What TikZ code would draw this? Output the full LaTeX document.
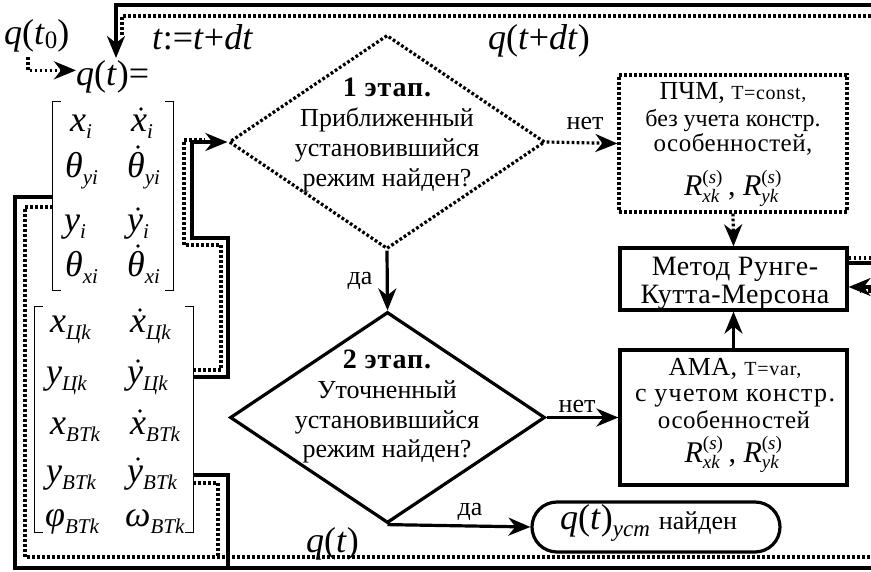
\documentclass[tikz,border=0pt]{standalone}
\usepackage{fontspec}
\usepackage{graphicx}
\setmainfont{Liberation Serif}
\usetikzlibrary{arrows.meta,shapes.geometric,shapes.misc}

\newcommand\fsz[1]{\fontsize{#1}{#1}\selectfont}
\newcommand\wide[1]{\addfontfeature{LetterSpace=#1}}
% lowered italic index
\newcommand\lowix[2][21]{\raisebox{-7pt}{\fsz{#1}\textit{#2}}}
% matrix entry: italic symbol with index
\newcommand\mv[2]{\textit{#1}\lowix{#2}}
% reaction force with superscript (s)
\newcommand\Rf[1]{$\hbox{\textit{R}}^{\hbox{\fsz{19}(\textit{s})}}_{\hbox{\fsz{19}\textit{#1}}}$}

\begin{document}
\begin{tikzpicture}[x=1pt,y=-1pt,
  ln/.style={line width=3.2pt},
  dl/.style={line width=3.2pt,dash pattern=on 2.8pt off 2.2pt},
  arr/.style={-{Stealth[length=22pt,width=18pt,inset=7pt]}},
  txt/.style={inner sep=0pt,anchor=base},
  body/.style={txt,font=\fsz{26}},
  lbl/.style={txt,font=\fsz{26}},
  mth/.style={inner sep=0pt,anchor=base west,font=\fsz{36}},
  brk/.style={line width=1.1pt},
  box/.style={draw,rectangle,inner sep=0pt},
  dia/.style={draw,diamond,inner sep=0pt},
]
\useasboundingbox (0,0) rectangle (871,572);

% ---------- state vector q(t) ----------
\node[mth] (q0) at (4,45) {\textit{q}(\textit{t}\raisebox{-4pt}{\fsz{25}0})};
\node[mth] (tdt) at (152,50) {\textit{t}:=\textit{t}+\textit{dt}};
\node[mth] (qdt) at (488,50) {\textit{q}(\textit{t}+\textit{dt})};
\node[mth] (qt) at (76,86) {\textit{q}(\textit{t})=};

\node[inner sep=0pt,minimum width=120pt,minimum height=188pt] (m1) at (113,196) {};
\node[inner sep=0pt,minimum width=158pt,minimum height=225pt] (m2) at (114,419.5) {};
\foreach \m in {m1,m2}{
  \draw[brk] ([xshift=8pt]\m.north west) -- (\m.north west) -- (\m.south west) -- ([xshift=8pt]\m.south west);
  \draw[brk] ([xshift=-8pt]\m.north east) -- (\m.north east) -- (\m.south east) -- ([xshift=-8pt]\m.south east);
}
\node[mth] (a11) at (70,132) {\mv{x}{i}};
\node[mth] (a12) at (131,132) {\mv{x}{i}};
\node[mth] (a21) at (65,178) {\mv{θ}{yi}};
\node[mth] (a22) at (127,178) {\mv{θ}{yi}};
\node[mth] (a31) at (64,232) {\mv{y}{i}};
\node[mth] (a32) at (127,232) {\mv{y}{i}};
\node[mth] (a41) at (65,277) {\mv{θ}{xi}};
\node[mth] (a42) at (127,277) {\mv{θ}{xi}};

\node[mth] (b11) at (50,333) {\mv{x}{Цk}};
\node[mth] (b12) at (130,333) {\mv{x}{Цk}};
\node[mth] (b21) at (46,384) {\mv{y}{Цk}};
\node[mth] (b22) at (127,384) {\mv{y}{Цk}};
\node[mth] (b31) at (50,434) {\mv{x}{BTk}};
\node[mth] (b32) at (130,434) {\mv{x}{BTk}};
\node[mth] (b41) at (46,482) {\mv{y}{BTk}};
\node[mth] (b42) at (127,482) {\mv{y}{BTk}};
\node[mth] (b51) at (45,526) {\mv{φ}{BTk}};
\node[mth] (b52) at (125,526) {\mv{ω}{BTk}};

% time-derivative dots over the second column
\foreach \n/\dx/\dy in {a12/10/23, a22/11/31, a32/11/23, a42/11/31,
                        b12/10/23, b22/11/23, b32/10/23, b42/11/23}
  \fill ([xshift=\dx pt,yshift=\dy pt]\n.base west) circle (1.9pt);

% ---------- blocks ----------
\node[dia,dl,minimum width=316pt,minimum height=214pt] (d1) at (387,142) {};
\node[dia,ln,minimum width=315pt,minimum height=211pt] (d2) at (387.5,417.5) {};
\node[box,dl,minimum width=228pt,minimum height=137pt] (b1) at (733,143.5) {};
\node[box,ln,minimum width=227pt,minimum height=62pt] (rk) at (733.5,279) {};
\node[box,ln,minimum width=227pt,minimum height=135pt] (ama) at (733.5,417.5) {};
\node[draw,ln,rounded rectangle,minimum width=248pt,minimum height=50pt,inner sep=0pt] (term) at (656,527) {};

% texts of the blocks
\node[txt,font=\fsz{28}\bfseries\wide{3}] (d1a) at (387,97) {1 этап.};
\node[body] (d1b) at (387,127) {Приближенный};
\node[body] (d1c) at (387,157) {установившийся};
\node[body] (d1d) at (387,187) {режим найден?};

\node[txt,font=\fsz{28}\bfseries\wide{3}] (d2a) at (387,368) {2 этап.};
\node[body] (d2b) at (387,398) {Уточненный};
\node[body] (d2c) at (387,428) {установившийся};
\node[body] (d2d) at (387,457) {режим найден?};

\node[txt] (b1a) at (733,100) {\fsz{26}ПЧМ, \fsz{20}\wide{3}T=const,};
\node[txt,font=\fsz{24}] (b1b) at (733,127) {без учета констр.};
\node[txt,font=\fsz{25}\wide{2}] (b1c) at (733,152) {особенностей,};
\node[txt,font=\fsz{30}] (b1d) at (733,196) {\Rf{xk}\,, \Rf{yk}};

\node[txt,font=\fsz{28}\wide{2}] (rka) at (735,276) {Метод Рунге-};
\node[txt,font=\fsz{28}\wide{2}] (rkb) at (735,304) {Кутта-Мерсона};

\node[txt] (amaa) at (735,375) {\fsz{26}\wide{2}АМА, \fsz{20}\wide{4}T=var,};
\node[txt,font=\fsz{26}\wide{5}] (amab) at (735,402) {с учетом констр.};
\node[txt,font=\fsz{25}\wide{2}] (amac) at (734,428) {особенностей};
\node[txt,font=\fsz{30}] (amad) at (733.5,462) {\Rf{xk}\,, \Rf{yk}};

\node[txt,anchor=base west] (termt) at (560,529) {\fsz{36}\textit{q}(\textit{t})\lowix[23]{уст} \fsz{26}найден};

% branch labels
\node[lbl] (da1) at (360,285) {да};
\node[lbl] (net1) at (585,130) {нет};
\node[lbl] (net2) at (577,412) {нет};
\node[lbl] (da2) at (470,515) {да};
\node[mth] (qtb) at (306,552) {\textit{q}(\textit{t})};

% ---------- connectors ----------
\draw[ln,arr] (d1.south) -- (d2.north);
\draw[dl,arr] (d1.east) -- (b1.west);
\draw[dl,arr] (b1.south) -- (rk.north);
\draw[ln,arr] (ama.north) -- (rk.south);
\draw[ln,arr] (d2.east) -- (ama.west);
\draw[ln,arr] (d2.south) -- (term.west);

% initial state
\draw[dl,arr] (28,57) |- ([yshift=7pt]qt.west);

% new state q(t+dt) back to the start of the step
\coordinate (eTS) at (871,5);
\coordinate (eTD) at (871,16);
\draw[ln,arr] (eTS) -- (116,5) -- (116,58);
\draw[dl] (eTD) -- (122,16) -- (122,36);

% vector q(t) into stage 1
\draw[ln,arr] (m2.east |- 0,377) -- (228,377) -- (228,238) -- (192,238) -- (192,142) -- (d1.west);
\draw[dl] (m2.east |- 0,370) -- (221,370) -- (221,245) -- (184,245) -- (184,140) -- (205,140);

% vector q(t) into the integrator (bottom bus)
\coordinate (eBS) at (871,568);
\coordinate (eBD) at (871,557);
\draw[ln] (m1.west |- 0,197) -- (15,197) -- (15,568) -- (eBS);
\draw[dl] (m1.west |- 0,207) -- (25,207) -- (25,557) -- (eBD);
\draw[ln] (m2.east |- 0,475) -- (228,475) -- (228,568);
\draw[dl] (m2.east |- 0,483) -- (218,483) -- (218,557);

% integrator outputs and inputs on the right side
\coordinate (eRD) at (871,258);
\coordinate (eRS) at (871,263);
\coordinate (eRI) at (871,287);
\coordinate (eRJ) at (871,291);
\draw[dl] (rk.east |- 0,258) -- (eRD);
\draw[ln] (rk.east |- 0,263) -- (eRS);
\draw[ln,arr] (eRI) -- (rk.east |- 0,287);
\draw[dl] (eRJ) -- (860,291);
\end{tikzpicture}
\end{document}
